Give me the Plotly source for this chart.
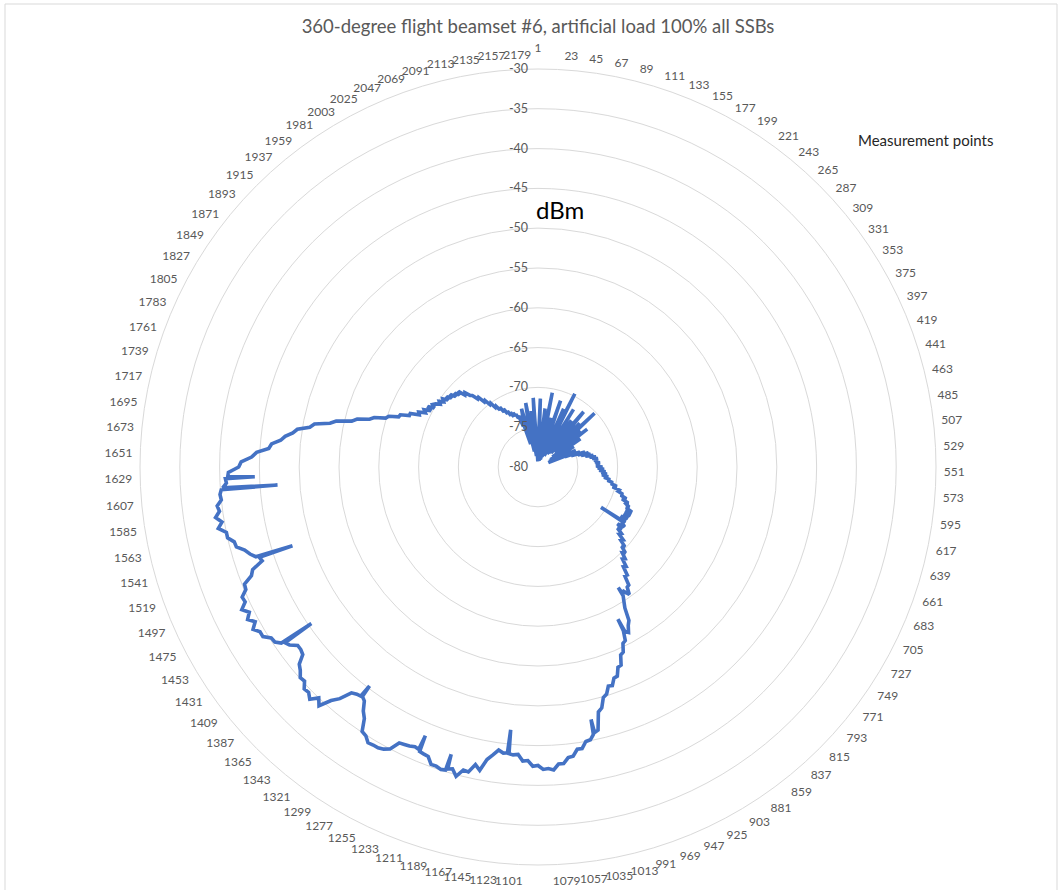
import plotly.graph_objects as go

# Radar of received power (dBm) over one 360-degree flight.
# Base track: one sample every 6 measurement points.
N_POINTS = 2184
STEP = 6
base_points = [1 + STEP * k for k in range(364)]

base_dbm = [
    -79.0, -76.5, -71.4, -77.8, -78.9, -76.2, -78.0, -72.6, -77.5, -79.2,
    -75.8, -70.5, -78.4, -76.9, -78.8, -73.6, -77.2, -79.0, -75.4, -71.2,
    -77.6, -78.6, -74.8, -77.9, -72.0, -78.2, -76.0, -69.7, -77.0, -78.4,
    -74.2, -76.8, -71.5, -77.4, -75.6, -78.0, -72.8, -76.4, -77.8, -74.0,
    -71.0, -76.9, -75.2, -77.6, -72.4, -76.2, -74.8, -70.2, -76.6, -74.6,
    -77.2, -73.0, -75.8, -72.2, -76.9, -74.2, -77.8, -73.6, -76.4, -75.0,
    -78.2, -74.8, -77.0, -75.4, -78.4, -75.6, -77.2, -74.8, -78.6, -75.2,
    -76.4, -74.4, -75.6, -73.8, -74.8, -73.4, -74.4, -73.2, -73.9, -72.9,
    -73.4, -72.6, -73.1, -72.4, -72.9, -72.5, -72.8, -72.2, -72.7, -72.3,
    -72.7, -71.9, -72.5, -71.7, -72.3, -71.5, -72.0, -71.3, -71.9, -71.1,
    -71.6, -70.8, -71.1, -70.4, -70.6, -69.8, -70.3, -69.4, -69.5, -68.8,
    -69.0, -68.2, -68.7, -67.8, -68.0, -67.5, -67.8, -66.9, -67.7, -66.9,
    -67.7, -67.0, -67.9, -67.1, -67.4, -67.2, -66.8, -67.7, -66.9, -67.4,
    -66.6, -66.8, -65.9, -66.1, -65.2, -65.5, -64.6, -64.9, -64.1, -64.3,
    -63.3, -63.5, -62.4, -62.5, -61.3, -61.2, -60.3, -61.0, -60.6, -60.0,
    -59.2, -57.6, -57.1, -56.3, -56.7, -55.6, -55.4, -54.4, -54.2, -53.0,
    -52.9, -51.9, -51.8, -51.0, -51.1, -50.2, -49.9, -48.7, -48.3, -46.1,
    -45.8, -45.1, -45.0, -44.2, -44.2, -43.4, -43.3, -42.6, -42.6, -41.9,
    -42.1, -42.0, -42.5, -42.4, -43.1, -43.0, -43.8, -43.7, -43.9, -43.8,
    -44.1, -43.4, -42.7, -41.2, -41.8, -40.7, -40.8, -39.8, -40.6, -40.2,
    -40.1, -40.3, -40.3, -41.1, -41.2, -41.5, -41.6, -41.4, -41.3, -41.2,
    -40.0, -39.6, -39.4, -39.4, -39.3, -39.9, -40.1, -41.6, -42.3, -43.4,
    -43.9, -43.5, -43.2, -41.7, -40.8, -39.3, -40.0, -39.1, -39.6, -39.5,
    -40.2, -40.1, -40.7, -41.1, -42.2, -42.4, -42.4, -41.6, -41.0, -40.3,
    -40.2, -39.4, -39.4, -38.8, -39.5, -38.8, -39.4, -38.7, -39.5, -39.4,
    -40.2, -40.3, -41.5, -41.9, -43.4, -43.0, -42.2, -41.7, -40.8, -40.7,
    -40.0, -40.0, -39.1, -39.7, -39.0, -39.6, -39.4, -40.0, -39.9, -40.0,
    -40.8, -40.9, -41.1, -42.4, -42.7, -44.0, -44.6, -46.1, -46.4, -47.5,
    -48.0, -48.9, -49.4, -50.9, -51.4, -53.3, -54.0, -55.9, -56.5, -58.0,
    -58.5, -59.9, -60.2, -61.4, -61.5, -62.6, -62.6, -63.7, -63.5, -64.3,
    -64.0, -64.8, -64.2, -65.0, -64.6, -64.9, -65.4, -65.1, -65.6, -65.3,
    -65.9, -65.5, -66.1, -65.7, -66.4, -66.0, -66.6, -66.2, -67.1, -66.9,
    -67.6, -67.8, -68.6, -68.5, -69.4, -69.3, -70.1, -70.0, -70.8, -70.7,
    -71.4, -71.1, -71.9, -71.5, -72.3, -72.0, -72.7, -72.3, -73.0, -72.5,
    -73.0, -72.8, -73.4, -73.1, -74.6, -73.2, -77.0, -73.5, -72.4, -76.2,
    -74.0, -78.0, -73.8, -71.8, -76.8, -74.6, -78.6, -72.9, -77.4, -75.2,
    -71.3, -77.8, -79.3, -76.0,
]

# Short dropouts: single-point dips with their immediate neighbours
dropout_points = [
    744, 745, 746,
    888, 889, 890,
    924, 925, 926,
    1020, 1021, 1022,
    1128, 1129, 1130,
    1194, 1195, 1196,
    1230, 1231, 1232,
    1320, 1321, 1322,
    1428, 1429, 1430,
    1530, 1531, 1532,
    1614, 1615, 1616,
    1626, 1627, 1628,
]
dropout_dbm = [
    -67.3, -70.6, -67.5,
    -60.8, -61.8, -60.6,
    -56.6, -58.4, -56.8,
    -45.9, -47.6, -45.7,
    -43.8, -46.8, -43.9,
    -40.4, -42.3, -40.2,
    -41.3, -43.4, -41.5,
    -43.7, -45.3, -43.6,
    -41.3, -45.4, -40.9,
    -43.2, -47.6, -42.8,
    -40.1, -47.2, -40.3,
    -40.7, -44.4, -41.0,
]

# Merge both sets in measurement order
merged = dict(zip(base_points, base_dbm))
merged.update(zip(dropout_points, dropout_dbm))
order = sorted(merged)
theta = [str(p) for p in order] + [str(order[0])]
r = [merged[p] for p in order] + [merged[order[0]]]

# Every measurement point is a category; labels every 22 points
all_points = [str(p) for p in range(1, N_POINTS + 1)]
tick_points = [str(p) for p in range(1, N_POINTS, 22)]

# Labels close to the top and bottom are nudged sideways (padding in
# non-breaking spaces: negative = pad after, positive = pad before)
label_nudge = {"2157": -9, "2179": -9, "23": 5, "1145": -2,
               "1123": -13, "1101": -13, "1079": 8}
NBSP = "&nbsp;"
tick_text = []
for lab in tick_points:
    n = label_nudge.get(lab, 0)
    tick_text.append(NBSP * n + lab if n > 0 else lab + NBSP * (-n))
# the first point's label sits raised above its neighbours
tick_text[0] = "<span style='font-size:17px'><sup>1</sup></span>"

radial_ticks = [-80, -75, -70, -65, -60, -55, -50, -45, -40, -35, -30]

GRID = "#d9d9d9"
LABEL = "#595959"
FONT = "Lato"

fig = go.Figure()
fig.add_trace(go.Scatterpolar(
    r=r,
    theta=theta,
    mode="lines",
    line=dict(color="#4472C4", width=3.6),
    showlegend=False,
    hoverinfo="skip",
))

fig.update_layout(
    width=1062,
    height=890,
    paper_bgcolor="white",
    plot_bgcolor="white",
    margin=dict(l=140, r=126, t=69, b=25),
    font=dict(family=FONT, color=LABEL, size=12),
    title=dict(
        text="360-degree flight beamset #6, artificial load 100% all SSBs",
        x=538 / 1062, xanchor="center", xref="container",
        y=1 - 27 / 890, yanchor="middle", yref="container",
        font=dict(family=FONT, size=18.5, color=LABEL),
    ),
    polar=dict(
        bgcolor="white",
        domain=dict(x=[0, 1], y=[0, 1]),
        angularaxis=dict(
            type="category",
            categoryorder="array",
            categoryarray=all_points,
            period=N_POINTS,
            rotation=90,
            direction="clockwise",
            tickmode="array",
            tickvals=tick_points,
            ticktext=tick_text,
            showgrid=False,
            showline=True,
            linecolor=GRID,
            linewidth=1,
            ticks="outside",
            ticklen=5,
            tickcolor="rgba(0,0,0,0)",
            tickfont=dict(family=FONT, size=12, color=LABEL),
        ),
        radialaxis=dict(
            range=[-80, -30],
            tickmode="array",
            tickvals=radial_ticks,
            ticktext=[str(v) for v in radial_ticks],
            angle=90,
            tickangle=90,
            side="counterclockwise",
            showline=False,
            ticks="outside",
            ticklen=5,
            tickcolor="rgba(0,0,0,0)",
            showgrid=True,
            gridcolor=GRID,
            gridwidth=1,
            tickfont=dict(family=FONT, size=12.5, color=LABEL),
        ),
    ),
    annotations=[
        dict(text="dBm", x=(560 - 140) / 796, y=1 - (210 - 69) / 796,
             xref="paper", yref="paper", xanchor="center", yanchor="middle",
             showarrow=False,
             font=dict(family=FONT, size=24, color="#000000")),
        dict(text="Measurement points", x=(925 - 140) / 796, y=1 - (140 - 69) / 796,
             xref="paper", yref="paper", xanchor="center", yanchor="middle",
             showarrow=False,
             font=dict(family=FONT, size=15, color="#262626")),
    ],
    shapes=[
        dict(type="rect", xref="paper", yref="paper",
             x0=(5 - 140) / 796, x1=(1057 - 140) / 796,
             y0=1 - (900 - 69) / 796, y1=1 + (69 - 4) / 796,
             line=dict(color=GRID, width=1), fillcolor="rgba(0,0,0,0)", layer="below"),
    ],
)

fig.write_html("out.html")
